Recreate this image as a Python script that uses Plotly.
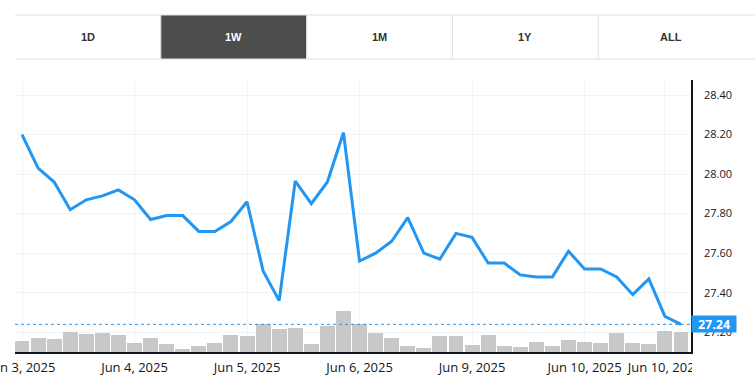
import plotly.graph_objects as go

# ---- data ----
tick_idx = [0, 7, 14, 21, 28, 35, 40]
tick_labels = ["Jun 3, 2025", "Jun 4, 2025", "Jun 5, 2025", "Jun 6, 2025",
               "Jun 9, 2025", "Jun 10, 2025", "Jun 10, 2025"]
prices = [28.20, 28.03, 27.96, 27.82, 27.87, 27.89, 27.92, 27.87, 27.77, 27.79,
          27.79, 27.71, 27.71, 27.76, 27.86, 27.51, 27.36, 27.965, 27.85, 27.96,
          28.21, 27.56, 27.60, 27.66, 27.78, 27.60, 27.57, 27.70, 27.68, 27.55,
          27.55, 27.49, 27.48, 27.48, 27.61, 27.52, 27.52, 27.48, 27.39, 27.47,
          27.28, 27.24]
volumes = [11, 14, 13, 20, 18.3, 19.3, 17, 9, 14, 8,
           3, 6, 9, 17, 16, 28, 23, 24, 8, 26,
           41, 28, 19.3, 14, 6, 4, 16, 16, 7, 17,
           6, 5, 10, 6, 12, 10, 9, 19, 9, 8,
           21, 20]
y_ticks = [27.20, 27.40, 27.60, 27.80, 28.00, 28.20, 28.40]
buttons = ["1D", "1W", "1M", "1Y", "ALL"]
active_button = "1W"

idx = list(range(len(prices)))

# ---- pixel helpers for layout ----
W, H = 755, 382
L, R, T, B = 15, 691, 80, 352
def px(x):
    return (x - L) / (R - L)
def py(y):
    return (B - y) / (B - T)

BLUE = "#2196f3"
TXT = "#131722"
GRID = "#f0f3fa"
FONT = "Open Sans"

fig = go.Figure()
fig.add_trace(go.Bar(x=idx, y=volumes, marker=dict(color="#c8c8c8", line=dict(width=0)),
                     width=0.93, yaxis="y", hoverinfo="skip"))
fig.add_trace(go.Scatter(x=idx, y=prices, mode="lines", yaxis="y2",
                         line=dict(color=BLUE, width=3)))

shapes = []
# last price dotted line
shapes.append(dict(type="line", xref="paper", x0=0, x1=1, yref="y2",
                   y0=prices[-1], y1=prices[-1],
                   line=dict(color=BLUE, width=1, dash="dot"), layer="above"))
# cover to clip x labels beyond plot area
shapes.append(dict(type="rect", xref="paper", yref="paper",
                   x0=px(692), x1=px(W + 5), y0=py(B + 2), y1=py(H + 5),
                   fillcolor="white", line=dict(width=0), layer="above"))

# buttons
bw = 145.8
bx0 = 15
btop, bbot = 15, 59
annotations = []
for i, name in enumerate(buttons):
    x0 = bx0 + i * bw
    x1 = x0 + bw
    active = name == active_button
    if active:
        shapes.append(dict(type="rect", xref="paper", yref="paper",
                           x0=px(x0), x1=px(x1), y0=py(bbot), y1=py(btop),
                           fillcolor="#4d4d4d", line=dict(width=0), layer="above"))
    if i > 0:
        shapes.append(dict(type="line", xref="paper", yref="paper",
                           x0=px(x0), x1=px(x0), y0=py(bbot), y1=py(btop),
                           line=dict(color="#e0e0e0", width=1), layer="above"))
    annotations.append(dict(xref="paper", yref="paper", x=px((x0 + x1) / 2), y=py(37),
                            text="<b>" + name + "</b>", showarrow=False,
                            font=dict(family="Liberation Sans", size=11,
                                      color="white" if active else "#333333"),
                            xanchor="center", yanchor="middle"))
for yy in (btop, bbot):
    shapes.append(dict(type="line", xref="paper", yref="paper",
                       x0=px(15), x1=px(W + 5), y0=py(yy), y1=py(yy),
                       line=dict(color="#e0e0e0", width=1), layer="above"))

# last price label
annotations.append(dict(xref="paper", yref="y2", x=1, y=prices[-1],
                        text="<b>%.2f</b>" % prices[-1], showarrow=False,
                        xanchor="left", yanchor="middle",
                        bgcolor=BLUE, font=dict(family=FONT, size=12.5, color="white"),
                        borderpad=1, width=42, height=14))

fig.update_layout(
    width=W, height=H, autosize=False,
    margin=dict(l=L, r=W - R, t=T, b=H - B, pad=0, autoexpand=False),
    paper_bgcolor="white", plot_bgcolor="white",
    showlegend=False, bargap=0,
    font=dict(family=FONT, size=12, color=TXT),
    xaxis=dict(range=[-0.4356, 41.622], tickmode="array", tickvals=tick_idx,
               ticktext=tick_labels, showgrid=True, gridcolor=GRID, gridwidth=1,
               showline=True, linecolor=TXT, linewidth=1.5, ticks="", zeroline=False,
               ticklabeloverflow="allow", automargin=False, ticklabelstandoff=3,
               tickfont=dict(family=FONT, size=13, color=TXT)),
    yaxis=dict(range=[0, 272], visible=False, showgrid=False, fixedrange=True,
               automargin=False),
    yaxis2=dict(overlaying="y", side="right", range=[27.100, 28.476],
                tickmode="array", tickvals=y_ticks, tickformat=".2f",
                showgrid=True, gridcolor=GRID, gridwidth=1,
                showline=True, linecolor=TXT, linewidth=1.5, ticks="",
                ticklabelstandoff=9, zeroline=False, automargin=False,
                tickfont=dict(family=FONT, size=11, color=TXT)),
    shapes=shapes, annotations=annotations,
)

fig.write_html("out.html", config={"displayModeBar": False},
               post_script="document.body.style.margin='0';")
